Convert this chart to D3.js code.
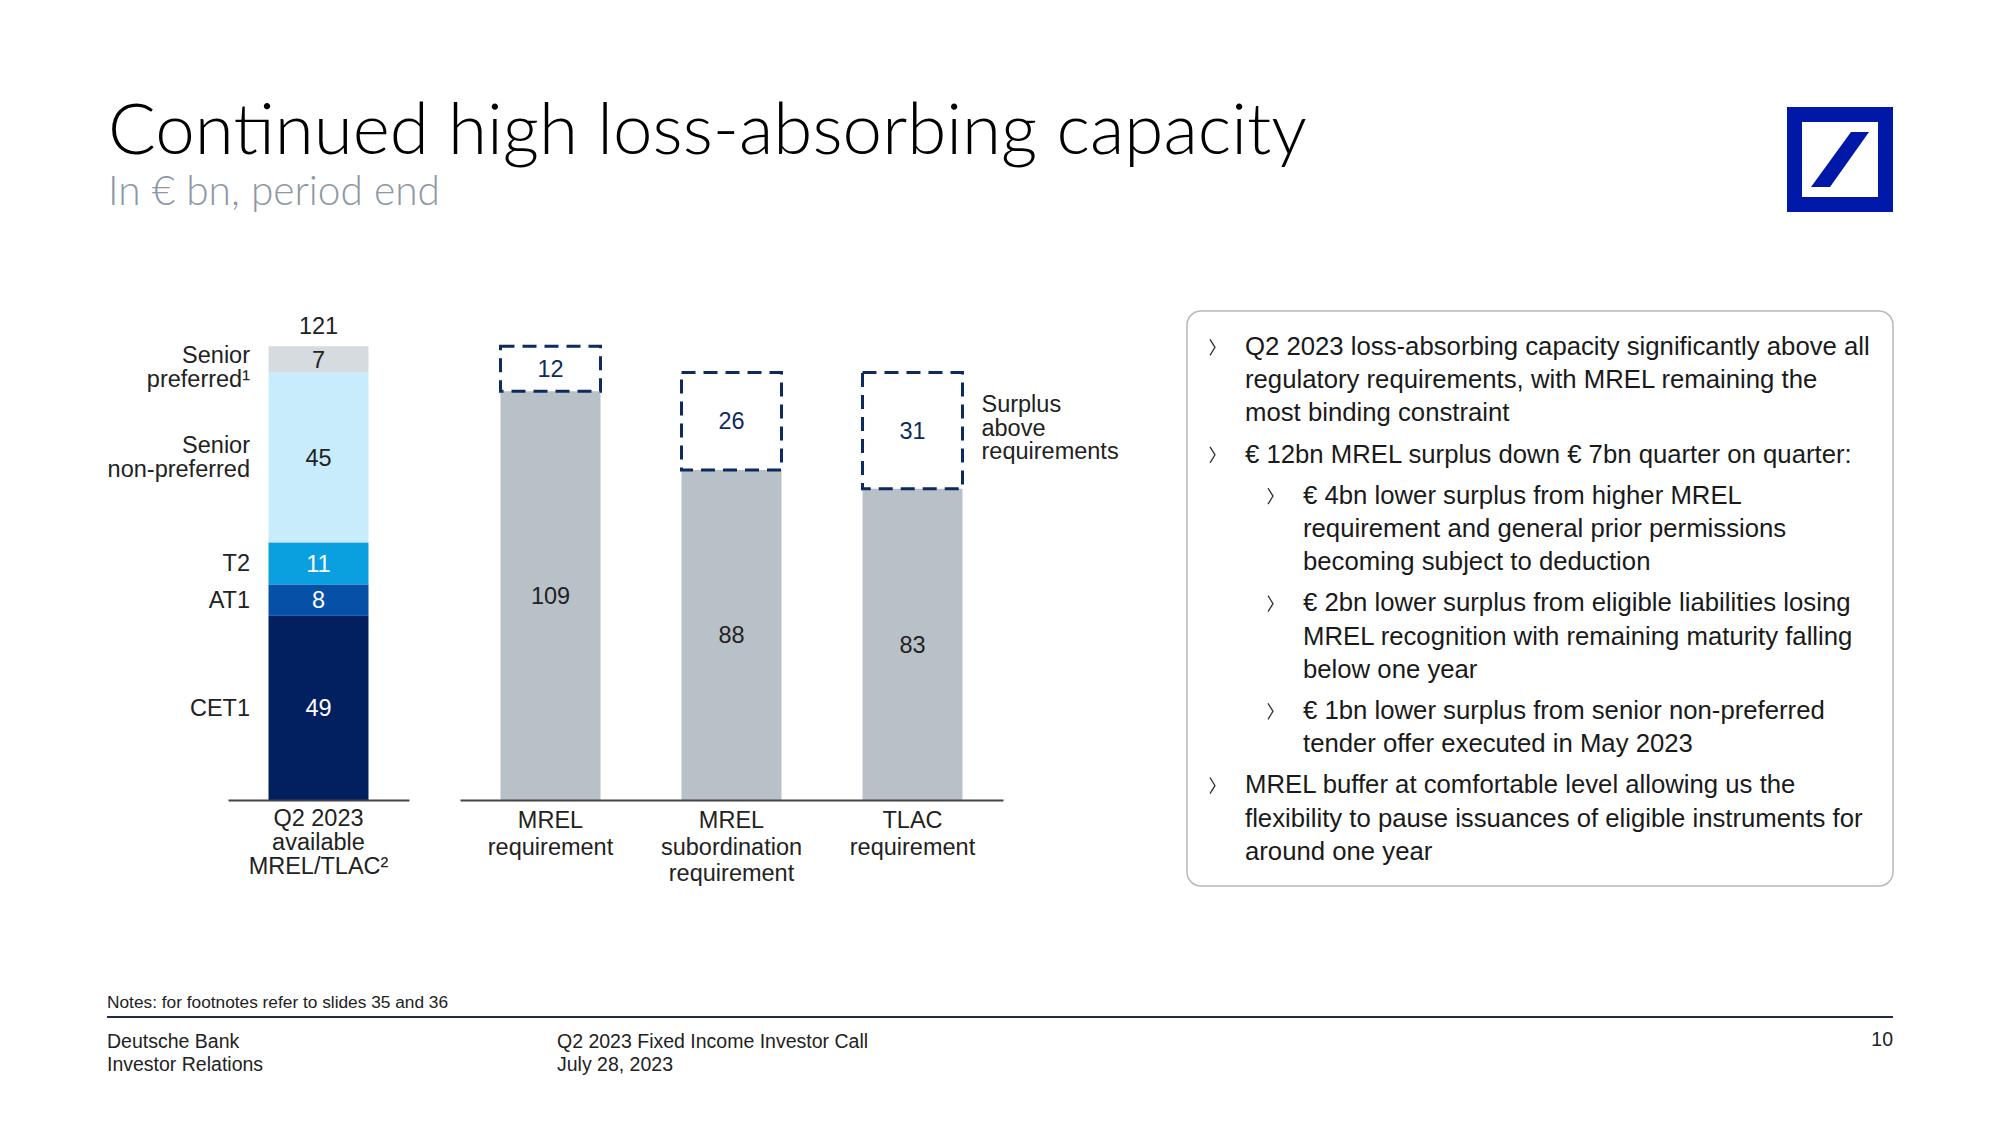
<!DOCTYPE html>
<html><head><meta charset="utf-8">
<script src="https://cdn.jsdelivr.net/npm/d3@7"></script>
<style>
html,body{margin:0;padding:0;background:#fff;}
svg{display:block;}
text{font-family:"Liberation Sans",Arial,sans-serif;}
</style></head>
<body>
<script>
// ---------- data ----------
const segCategories = ["CET1", "AT1", "T2", "Senior\nnon-preferred", "Senior\npreferred¹"];
const segValues = [49.1, 8.4, 11.2, 45.3, 7.0];
const availableCategory = ["Q2 2023\navailable\nMREL/TLAC²"];
const reqCategories = ["MREL\nrequirement", "MREL\nsubordination\nrequirement", "TLAC\nrequirement"];
const reqValues = [109, 88, 83];
const surplusValues = [12, 26, 31];
const surplusLabel = "Surplus\nabove\nrequirements";
const titleText = "Continued high loss-absorbing capacity";
const subtitleText = "In € bn, period end";
const bullets = [
  {level: 0, lines: ["Q2 2023 loss-absorbing capacity significantly above all", "regulatory requirements, with MREL remaining the", "most binding constraint"]},
  {level: 0, lines: ["€ 12bn MREL surplus down € 7bn quarter on quarter:"]},
  {level: 1, lines: ["€ 4bn lower surplus from higher MREL", "requirement and general prior permissions", "becoming subject to deduction"]},
  {level: 1, lines: ["€ 2bn lower surplus from eligible liabilities losing", "MREL recognition with remaining maturity falling", "below one year"]},
  {level: 1, lines: ["€ 1bn lower surplus from senior non-preferred", "tender offer executed in May 2023"]},
  {level: 0, lines: ["MREL buffer at comfortable level allowing us the", "flexibility to pause issuances of eligible instruments for", "around one year"]}
];
const footNote = "Notes: for footnotes refer to slides 35 and 36";
const footLeft = ["Deutsche Bank", "Investor Relations"];
const footMid = ["Q2 2023 Fixed Income Investor Call", "July 28, 2023"];
const pageNumber = "10";

// ---------- styles ----------
const segColors = ["#02205f", "#0651a7", "#0a9fdf", "#c8ecfb", "#d6dbdf"];
const segTextColors = ["#fff", "#fff", "#fff", "#222", "#222"];
const reqColor = "#b8c0c8";
const navy = "#0d2b5e";
const labelFont = 23.5;

const W = 2000, H = 1125;
const svg = d3.select("body").append("svg").attr("width", W).attr("height", H);

function fitWidth(sel, target) {
  const fs = parseFloat(sel.attr("font-size"));
  const w = sel.node().getComputedTextLength();
  sel.attr("font-size", fs * target / w);
}
function multiLine(g, text, x, y0, lh, anchor) {
  const t = g.append("text").attr("x", x).attr("y", y0).attr("text-anchor", anchor || "middle");
  text.split("\n").forEach((s, i) => t.append("tspan").attr("x", x).attr("y", y0 + i * lh).text(s));
  return t;
}

// ---------- title ----------
const title = svg.append("text").attr("x", 108).attr("y", 154)
  .attr("font-weight", 300).attr("font-size", 64).attr("fill", "#000").text(titleText);
title.style("font-family", "Lato, sans-serif");
fitWidth(title, 1199);
const sub = svg.append("text").attr("x", 108).attr("y", 205)
  .attr("font-weight", 300).attr("font-size", 37).attr("fill", "#8c98a5").text(subtitleText);
sub.style("font-family", "Lato, sans-serif");
fitWidth(sub, 332);

// ---------- logo ----------
const logo = svg.append("g");
logo.append("rect").attr("x", 1787).attr("y", 107).attr("width", 106).attr("height", 105).attr("fill", "#0018a8");
logo.append("rect").attr("x", 1802).attr("y", 122).attr("width", 76).attr("height", 75).attr("fill", "#fff");
logo.append("path").attr("d", "M1851,132 L1869,132 L1830,187 L1811,187 Z").attr("fill", "#0018a8");

// ---------- chart ----------
const baseY = 800;
const y = d3.scaleLinear().domain([0, 121]).range([baseY, baseY - 121 * 3.75]);

// left stacked bar
const xL = d3.scaleBand().domain(availableCategory).range([228, 409]).paddingInner(0.4475).paddingOuter(0.2238);
let cum = 0;
const stack = segValues.map((v, i) => { const d = {i, v, y0: cum, y1: cum + v, cat: segCategories[i]}; cum += v; return d; });
const total = d3.sum(segValues);
const gL = svg.append("g");
gL.selectAll("rect.seg").data(stack).join("rect").attr("class", "seg")
  .attr("x", xL(availableCategory[0])).attr("width", xL.bandwidth())
  .attr("y", d => y(d.y1)).attr("height", d => y(d.y0) - y(d.y1))
  .attr("fill", d => segColors[d.i]);
gL.selectAll("text.val").data(stack).join("text").attr("class", "val")
  .attr("x", xL(availableCategory[0]) + xL.bandwidth() / 2)
  .attr("y", d => (y(d.y0) + y(d.y1)) / 2).attr("dy", "0.35em")
  .attr("text-anchor", "middle").attr("font-size", labelFont)
  .attr("fill", d => segTextColors[d.i]).text(d => d3.format(".0f")(d.v));
gL.append("text").attr("x", xL(availableCategory[0]) + xL.bandwidth() / 2).attr("y", y(total) - 12)
  .attr("text-anchor", "middle").attr("font-size", labelFont).attr("fill", "#222")
  .text(d3.format(".0f")(total));
stack.forEach(d => {
  const lines = d.cat.split("\n");
  const c = (y(d.y0) + y(d.y1)) / 2;
  const cy = lines.length > 1 ? Math.max(c, y(d.y1) + 21) : c;
  const lh = 24;
  const start = cy - (lines.length - 1) * lh / 2 + 8;
  multiLine(gL, d.cat, 250, start, lh, "end").attr("font-size", labelFont).attr("fill", "#222");
});

// right requirement bars
const xR = d3.scaleBand().domain(reqCategories).range([460, 1003]).paddingInner(0.4475).paddingOuter(0.2238);
const reqData = reqCategories.map((c, i) => ({c, req: reqValues[i], sur: surplusValues[i]}));
const gR = svg.append("g");
gR.selectAll("rect.req").data(reqData).join("rect").attr("class", "req")
  .attr("x", d => xR(d.c)).attr("width", xR.bandwidth())
  .attr("y", d => y(d.req)).attr("height", d => y(0) - y(d.req)).attr("fill", reqColor);
gR.selectAll("rect.sur").data(reqData).join("rect").attr("class", "sur")
  .attr("x", d => xR(d.c)).attr("width", xR.bandwidth())
  .attr("y", d => y(d.req + d.sur)).attr("height", d => y(d.req) - y(d.req + d.sur))
  .attr("fill", "none").attr("stroke", navy).attr("stroke-width", 3).attr("stroke-dasharray", "14,8");
gR.selectAll("text.reqv").data(reqData).join("text").attr("class", "reqv")
  .attr("x", d => xR(d.c) + xR.bandwidth() / 2).attr("y", d => y(d.req / 2)).attr("dy", "0.35em")
  .attr("text-anchor", "middle").attr("font-size", labelFont).attr("fill", "#222").text(d => d.req);
gR.selectAll("text.surv").data(reqData).join("text").attr("class", "surv")
  .attr("x", d => xR(d.c) + xR.bandwidth() / 2).attr("y", d => y(d.req + d.sur / 2)).attr("dy", "0.35em")
  .attr("text-anchor", "middle").attr("font-size", labelFont).attr("fill", navy).text(d => d.sur);
const last = reqData[reqData.length - 1];
const annY = (y(last.req) + y(last.req + last.sur)) / 2;
multiLine(gR, surplusLabel, xR(last.c) + xR.bandwidth() + 19, annY - 23.5 + 5, 23.5, "start")
  .attr("font-size", labelFont).attr("fill", "#222");

// axes (baseline only) + category labels
[[xL, availableCategory, 25.5, 24.2], [xR, reqCategories, 28, 26.5]].forEach(([sc, cats, off, lh]) => {
  const ax = svg.append("g").attr("transform", `translate(0,${baseY})`)
    .call(d3.axisBottom(sc).tickSize(0).tickSizeOuter(0).tickFormat(""));
  ax.select(".domain").attr("stroke", "#444").attr("stroke-width", 2);
  cats.forEach(c => {
    multiLine(svg, c, sc(c) + sc.bandwidth() / 2, baseY + off, lh, "middle")
      .attr("font-size", labelFont).attr("fill", "#222");
  });
});

// ---------- text panel ----------
svg.append("rect").attr("x", 1187).attr("y", 311).attr("width", 706).attr("height", 575)
  .attr("rx", 14).attr("fill", "none").attr("stroke", "#b3b9bf").attr("stroke-width", 1.5);
const panel = svg.append("g");
const probe = panel.append("text").attr("font-size", 25).text(bullets[0].lines[0]);
const pfs = 25 * 625 / probe.node().getComputedTextLength();
probe.remove();
let by = 355;
const LH = 33.16, GAP = 8.1;
bullets.forEach((b, bi) => {
  if (bi > 0) by += GAP;
  const cx = b.level === 0 ? 1210 : 1268;
  const tx = b.level === 0 ? 1245 : 1303;
  const my = by - pfs * 0.3;
  panel.append("path").attr("d", `M${cx},${my - 8} L${cx + 5},${my} L${cx},${my + 8}`)
    .attr("fill", "none").attr("stroke", "#333").attr("stroke-width", 1.3);
  b.lines.forEach(l => {
    panel.append("text").attr("x", tx).attr("y", by).attr("font-size", pfs).attr("fill", "#1a1a1a").text(l);
    by += LH;
  });
});

// ---------- footer ----------
svg.append("text").attr("x", 107).attr("y", 1008).attr("font-size", 17.3).attr("fill", "#222").text(footNote);
svg.append("line").attr("x1", 107).attr("x2", 1893).attr("y1", 1017).attr("y2", 1017)
  .attr("stroke", "#1f2a44").attr("stroke-width", 2);
footLeft.forEach((s, i) => svg.append("text").attr("x", 107).attr("y", 1048 + i * 23).attr("font-size", 19.5).attr("fill", "#222").text(s));
footMid.forEach((s, i) => svg.append("text").attr("x", 557).attr("y", 1048 + i * 23).attr("font-size", 19.5).attr("fill", "#222").text(s));
svg.append("text").attr("x", 1893).attr("y", 1046).attr("text-anchor", "end").attr("font-size", 19.5).attr("fill", "#222").text(pageNumber);
</script>
</body></html>
